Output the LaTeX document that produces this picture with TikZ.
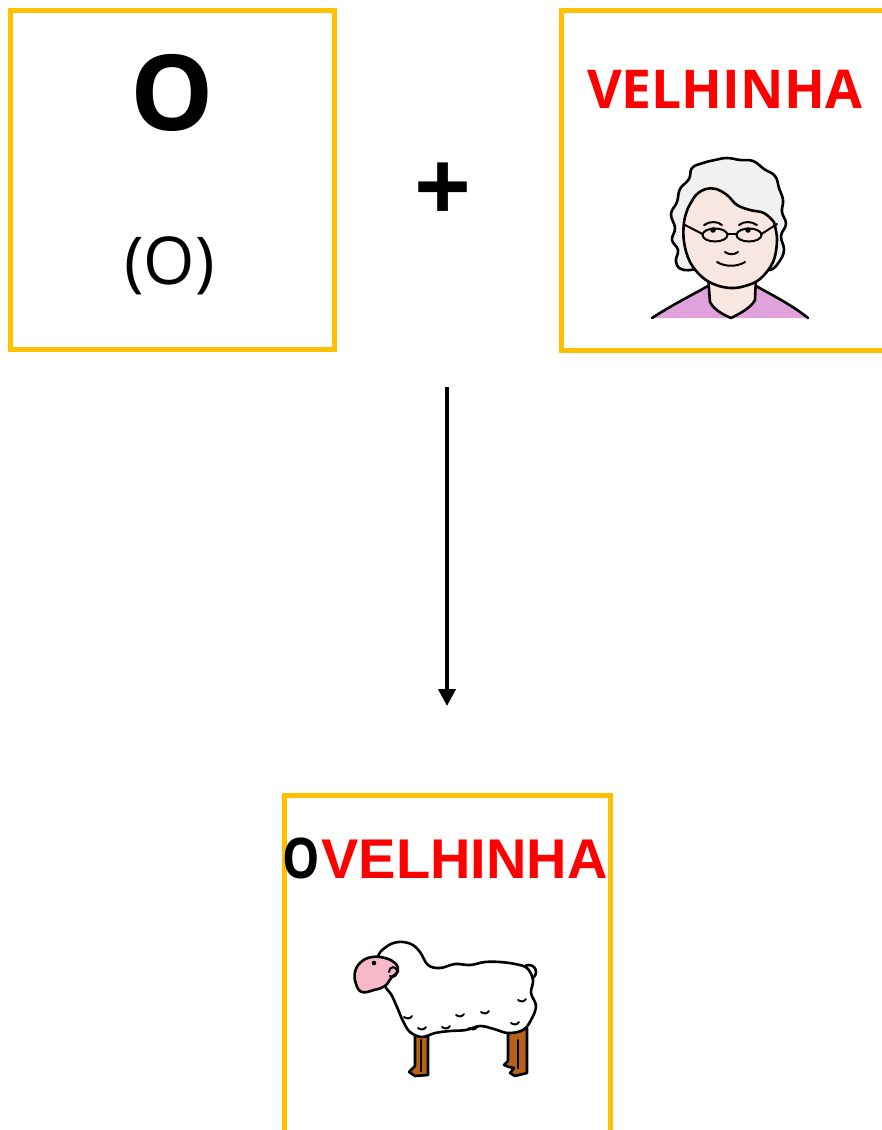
\documentclass[tikz,border=0pt]{standalone}
\usepackage{fontspec}
\usetikzlibrary{arrows.meta}
\newfontfamily\opensans{Open Sans}
\newfontfamily\arialfont{Liberation Sans}
\definecolor{cardgold}{HTML}{FFC000}
\definecolor{wordred}{HTML}{FF0000}
\definecolor{hairgrey}{HTML}{F1F1F1}
\definecolor{skin}{HTML}{F8E6E0}
\definecolor{blouse}{HTML}{E0A2DC}
\definecolor{snout}{HTML}{F7B9CA}
\definecolor{hoof}{HTML}{B6621C}
\tikzset{
  card/.style={draw=cardgold, line width=5pt, rectangle, inner sep=0pt, fill=none},
  outline/.style={draw=black, line width=2.6pt, line join=round, line cap=round},
  thinline/.style={draw=black, line width=2pt, line cap=round},
  wordtext/.style={inner sep=0pt, anchor=base},
}
\begin{document}
\begin{tikzpicture}[x=1pt, y=-1pt]
\useasboundingbox (0,0) rectangle (882,1130);
\clip (0,0) rectangle (882,1130);
\fill[white] (0,0) rectangle (882,1130);

% ---- cards ----
\node[card, minimum width=324pt, minimum height=339.5pt] (cardO) at (172.5,179.75) {};
\node[card, minimum width=324pt, minimum height=340pt] (cardV) at (723.5,180.5) {};
\node[card, minimum width=326.5pt, minimum height=340pt] (cardOV) at (284+163.25,795.7+170) {};

% ---- texts in the first card ----
\node[wordtext] (bigO) at (172.5,130) {\opensans\bfseries\fontsize{105}{105}\selectfont O};
\node[wordtext] (smallO) at (169.5,284) {\opensans\fontsize{66}{66}\selectfont (O)};

% ---- plus sign ----
\node[wordtext] (plus) at (443,222) {\opensans\bfseries\fontsize{100}{100}\selectfont +};

% ---- word in the second card ----
\node[wordtext, text=wordred] (velhinha) at (724.5,108) {\opensans\bfseries\fontsize{53.5}{54}\selectfont VELHINHA};

% ---- old lady ----
% blouse
\fill[blouse] (652,318) .. controls (672,305) and (692,295) .. (708,286)
  -- (756,286) .. controls (772,295) and (792,305) .. (808,318) -- cycle;
\draw[outline] (652,318) .. controls (672,305) and (692,295) .. (708,286);
\draw[outline] (756,286) .. controls (772,295) and (792,305) .. (808,318);
% neck
\filldraw[skin, outline] (708,276) -- (710,302) .. controls (714,310) and (724,315) .. (731,318)
  .. controls (739,314) and (751,308) .. (755,300) -- (756,276) -- cycle;
% hair
\filldraw[hairgrey, outline] plot[smooth cycle, tension=0.7] coordinates {
  (684,270) (676,262) (678,250) (672,240) (675,228) (671,214) (677,202)
  (680,189) (689,179) (692,168) (703,163) (715,160) (727,158) (740,160)
  (753,161) (764,169) (775,176) (779,188) (783,200) (782,212) (786,224)
  (781,236) (784,250) (779,262) (770,270) (756,268) (708,268)};
% face
\filldraw[skin, outline] plot[smooth, tension=0.6] coordinates {
  (688,208) (696,195) (706,189) (716,189) (727,195) (737,205) (750,210)
  (764,213) (774,222)}
  plot[smooth, tension=0.6] coordinates {(774,222) (777,240) (773,262) (760,279) (745,286)
  (731,288) (716,285) (702,277) (690,262) (684,242) (684,222) (688,208)};
% eyelids
\draw[thinline] (704,225) .. controls (710,221) and (717,221) .. (722,225);
\draw[thinline] (739,225) .. controls (744,221) and (751,221) .. (757,225);
% eyes
\fill[black] (713,230) circle (2.8pt);
\fill[black] (748,230) circle (2.8pt);
% glasses
\draw[thinline] (715,235) ellipse (12.5pt and 6.5pt);
\draw[thinline] (749,235) ellipse (12.5pt and 6.5pt);
\draw[thinline] (727.5,234) -- (736.5,234);
\draw[thinline] (685,225) -- (702.5,234);
\draw[thinline] (761.5,234) -- (777,224);
% nose and mouth
\draw[thinline] (725,252) .. controls (729,255) and (734,255) .. (738,252);
\draw[thinline] (717,262) .. controls (725,267) and (737,267) .. (745,262);

% ---- arrow ----
\coordinate (arrowtop) at (447,387);
\coordinate (arrowtip) at (447,706);
\draw[line width=4pt, -{Triangle[width=17pt, length=17pt]}] (arrowtop) -- (arrowtip);

% ---- word in the third card ----
\node[wordtext, anchor=base west] (ovelhinha) at (282,878)
  {\fontsize{56}{56}\selectfont{\opensans\bfseries\scalebox{0.84}[1]{O}}\hspace{2pt}{\arialfont\bfseries\color{wordred}VELHINHA}};

% ---- sheep ----
% legs
\filldraw[hoof, outline] (415,1030) -- (415,1066) -- (409,1072) -- (415,1076) -- (428,1075) -- (428,1030) -- cycle;
\draw[thinline] (421,1040) -- (421,1071);
\filldraw[hoof, outline] (508,1028) -- (508,1061) -- (504,1065) -- (509,1067) -- (514,1068) -- (510,1073) -- (515,1076) -- (527,1073) -- (527,1028) -- cycle;
\draw[thinline] (518,1040) -- (518,1068);
% tail
\filldraw[white, outline] (529,972) circle (7pt);
% wool body
\filldraw[white, outline] plot[smooth cycle, tension=0.6] coordinates {
  (378,958) (386,947) (398,942) (411,944) (420,952) (428,965) (440,968)
  (455,964) (470,965) (485,962) (500,962) (515,964) (527,968) (533,980)
  (531,993) (536,1006) (531,1020) (523,1030) (508,1033) (494,1029) (480,1026)
  (466,1030) (450,1031) (435,1033) (422,1037) (410,1032) (403,1021) (397,1007)
  (391,994) (384,984)};
% wool marks
\foreach \px/\py in {522/1000, 408/1017, 422/1028, 446/1027, 460/1015, 473/1028, 485/1012, 515/1023}
  \draw[thinline] (\px-4,\py) .. controls (\px-1,\py+2) and (\px+2,\py+2) .. (\px+4,\py-1);
% head
\filldraw[snout, outline] plot[smooth cycle, tension=0.7] coordinates {
  (372,957) (385,958) (395,963) (398,971) (391,978) (385,986) (374,990)
  (362,992) (356,984) (355,972) (361,962)};
\draw[thinline] (389,972) .. controls (389,966) and (397,965) .. (397,972) .. controls (397,976) and (393,978) .. (390,976);
\fill[black] (374,963) circle (2.3pt);
\end{tikzpicture}
\end{document}
